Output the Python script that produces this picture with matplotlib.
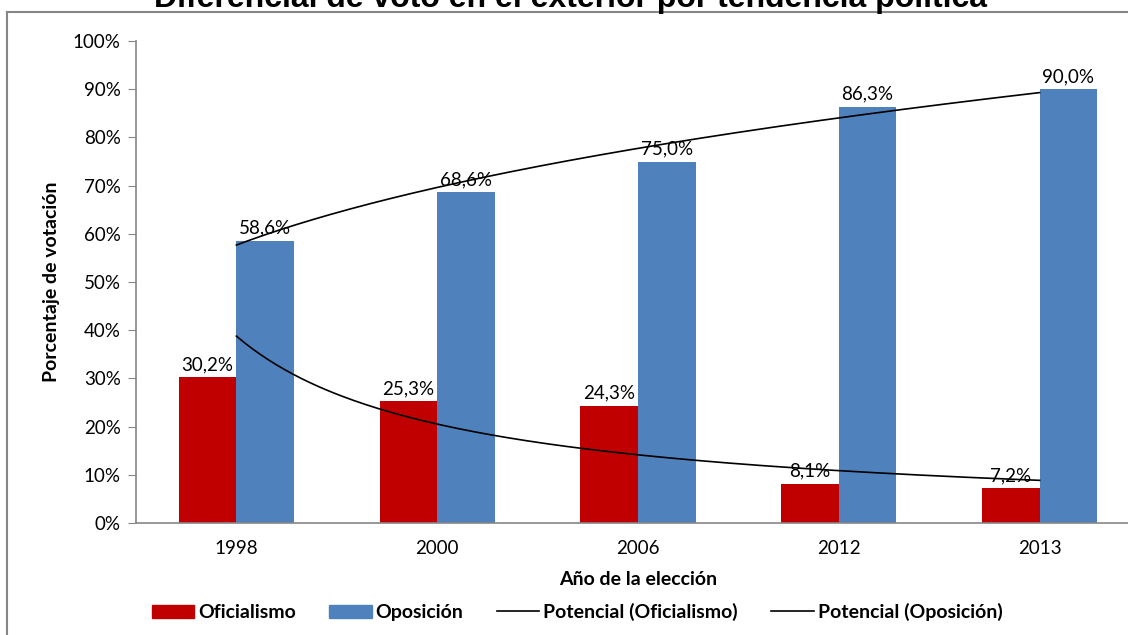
import numpy as np
import matplotlib.pyplot as plt
from matplotlib.patches import Patch
from matplotlib.lines import Line2D
from matplotlib.ticker import PercentFormatter

# datos
anios = ["1998", "2000", "2006", "2012", "2013"]
oficialismo = [30.2, 25.3, 24.3, 8.1, 7.2]
oposicion = [58.6, 68.6, 75.0, 86.3, 90.0]

ROJO = "#C00000"
AZUL = "#4F81BD"
GRIS = "#868686"
FUENTE = ["Lato", "DejaVu Sans"]


def linea_potencial(vals):
    # tendencia potencial como en Excel: y = a * x^b, x = 1..n
    x = np.arange(1, len(vals) + 1)
    b, ln_a = np.polyfit(np.log(x), np.log(vals), 1)
    xs = np.linspace(1, len(vals), 200)
    return xs - 1, np.exp(ln_a) * xs ** b


def etiqueta(v):
    return f"{v:.1f}%".replace(".", ",")


plt.rcParams["font.family"] = FUENTE

fig = plt.figure(figsize=(11.28, 6.35), dpi=100)
ax = fig.add_axes([136 / 1128, 112 / 635, 1004 / 1128, 482 / 635])

pos = np.arange(len(anios))
ancho = 0.287

ax.bar(pos - ancho / 2, oficialismo, ancho, color=ROJO, zorder=2)
ax.bar(pos + ancho / 2, oposicion, ancho, color=AZUL, zorder=2)

for p, v in zip(pos, oficialismo):
    ax.annotate(etiqueta(v), (p - ancho / 2, v), xytext=(0, 3),
                textcoords="offset points", ha="center", va="bottom", fontsize=13.5)
for p, v in zip(pos, oposicion):
    ax.annotate(etiqueta(v), (p + ancho / 2, v), xytext=(0, 3),
                textcoords="offset points", ha="center", va="bottom", fontsize=13.5)

xs, ys = linea_potencial(oficialismo)
ax.plot(xs, ys, color="black", lw=1.2, zorder=3)
xs, ys = linea_potencial(oposicion)
ax.plot(xs, ys, color="black", lw=1.2, zorder=3)

ax.set_xlim(-0.5, len(anios) - 0.5)
ax.set_ylim(0, 100)
ax.set_yticks(np.arange(0, 101, 10))
ax.yaxis.set_major_formatter(PercentFormatter(decimals=0))
ax.set_xticks(pos)
ax.set_xticklabels(anios)

for s in ["top", "right"]:
    ax.spines[s].set_visible(False)
for s in ["left", "bottom"]:
    ax.spines[s].set_color(GRIS)
    ax.spines[s].set_linewidth(1.2)
ax.tick_params(axis="y", length=6, color=GRIS, labelsize=13.5, pad=5)
ax.tick_params(axis="x", length=0, labelsize=13.5, pad=12)

ax.set_ylabel("Porcentaje de votación", fontsize=14, fontweight="bold", labelpad=9)
ax.set_xlabel("Año de la elección", fontsize=14, fontweight="bold", labelpad=10)

# marco del gráfico
fig.add_artist(Line2D([7 / 1128, 7 / 1128], [0, 623 / 635], color=GRIS, lw=1.5))
fig.add_artist(Line2D([7 / 1128, 1], [623 / 635, 623 / 635], color=GRIS, lw=1.5))

fig.text(570 / 1128, 628 / 635, "Diferencial de voto en el exterior por tendencia política",
         ha="center", va="baseline", fontsize=23, fontweight="bold",
         family=["Liberation Sans", "DejaVu Sans"])

manejadores = [
    Patch(color=ROJO, label="Oficialismo"),
    Patch(color=AZUL, label="Oposición"),
    Line2D([], [], color="black", lw=1.2, label="Potencial (Oficialismo)"),
    Line2D([], [], color="black", lw=1.2, label="Potencial (Oposición)"),
]
fig.legend(handles=manejadores, loc="center", bbox_to_anchor=(577 / 1128, 23 / 635),
           ncol=4, frameon=False, handlelength=2.2, handleheight=0.65,
           handletextpad=0.2, columnspacing=1.7,
           prop={"family": FUENTE, "weight": "bold", "size": 14})

fig.savefig("out.png", dpi=100)
